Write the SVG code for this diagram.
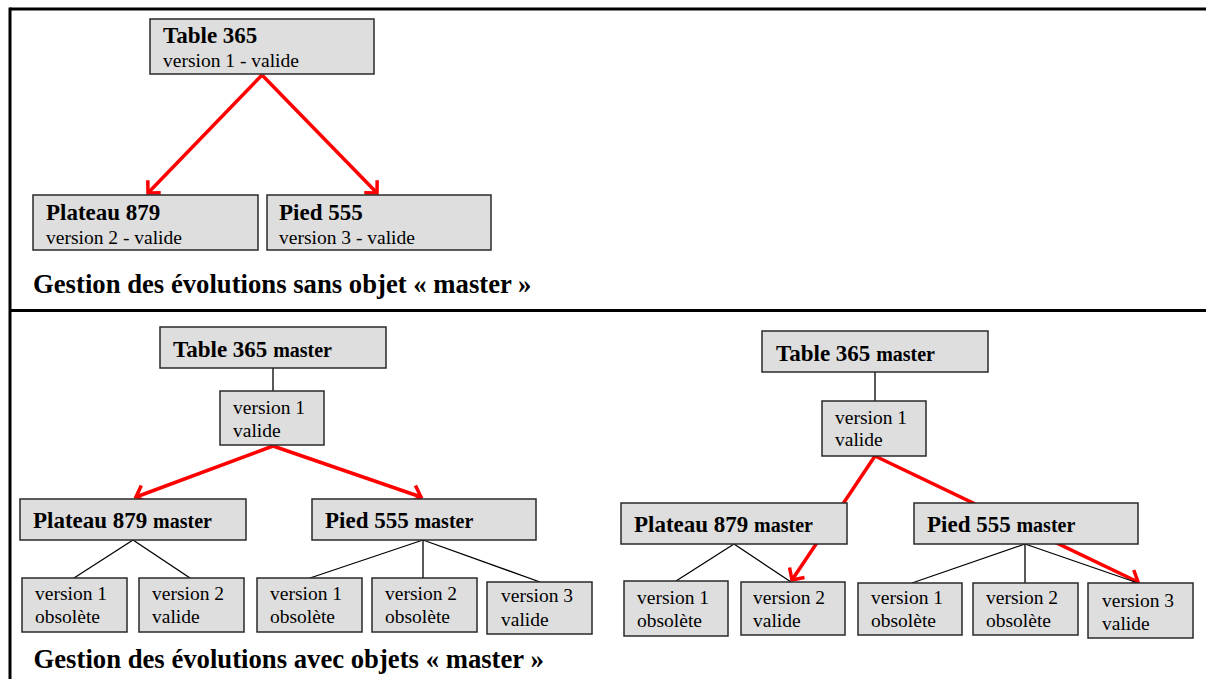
<svg xmlns="http://www.w3.org/2000/svg" width="1206" height="679" viewBox="0 0 1206 679">
<style>
.box{fill:#dedede;stroke:#2a2a2a;stroke-width:1.5}
.t{font-family:"Liberation Serif","Times New Roman",serif;font-weight:bold;font-size:23px;fill:#000}
.m{font-size:20px}
.v{font-family:"Liberation Serif","Times New Roman",serif;font-size:19.5px;fill:#000}
.cap{font-family:"Liberation Serif","Times New Roman",serif;font-weight:bold;font-size:26.7px;fill:#000}
.conn{stroke:#000;stroke-width:1.3;fill:none}
.red{stroke:#ff0000;stroke-width:3.5;fill:none}
.frame{stroke:#000;stroke-width:3;fill:none}
</style>
<defs>
<marker id="ah" markerUnits="userSpaceOnUse" viewBox="-14 -12 16 24" markerWidth="16" markerHeight="24" refX="0" refY="0" orient="auto" overflow="visible">
<path d="M-9,-9 L0,0 L-9,9" fill="none" stroke="#ff0000" stroke-width="3.5"/>
</marker>
</defs>
<g id="frame">
<line class="frame" x1="10" y1="9" x2="1206" y2="9"/>
<line class="frame" x1="10" y1="7.5" x2="10" y2="679"/>
<line class="frame" x1="10" y1="310.5" x2="1206" y2="310.5"/>
</g>
<g id="connectors">
<line class="red" x1="262" y1="75" x2="148" y2="193" marker-end="url(#ah)"/>
<line class="red" x1="262" y1="75" x2="377" y2="193" marker-end="url(#ah)"/>
<line class="conn" x1="273" y1="368" x2="273" y2="391"/>
<line class="red" x1="273" y1="446" x2="136" y2="497" marker-end="url(#ah)"/>
<line class="red" x1="273" y1="446" x2="421" y2="497" marker-end="url(#ah)"/>
<line class="conn" x1="133" y1="540" x2="74" y2="578"/>
<line class="conn" x1="133" y1="540" x2="190" y2="578"/>
<line class="conn" x1="423" y1="540" x2="310" y2="578"/>
<line class="conn" x1="423" y1="540" x2="423" y2="578"/>
<line class="conn" x1="423" y1="540" x2="540" y2="582"/>
<line class="conn" x1="875" y1="372" x2="875" y2="401"/>
<line class="red" x1="875" y1="456" x2="792" y2="580" marker-end="url(#ah)"/>
<line class="red" x1="875" y1="456" x2="1138" y2="582" marker-end="url(#ah)"/>
<line class="conn" x1="734" y1="544" x2="676" y2="581"/>
<line class="conn" x1="734" y1="544" x2="791" y2="582"/>
<line class="conn" x1="1025" y1="544" x2="912" y2="583"/>
<line class="conn" x1="1025" y1="544" x2="1025" y2="583"/>
<line class="conn" x1="1025" y1="544" x2="1138" y2="583"/>
</g>
<g id="top-table"><rect class="box" x="150" y="19" width="224" height="55"/><text class="t" x="163" y="43">Table 365</text><text class="v" x="163" y="67">version 1 - valide</text></g>
<g id="top-plateau"><rect class="box" x="33" y="195" width="225" height="55"/><text class="t" x="46" y="219.5">Plateau 879</text><text class="v" x="46" y="243.5">version 2 - valide</text></g>
<g id="top-pied"><rect class="box" x="267" y="195" width="224" height="55"/><text class="t" x="279" y="219.5">Pied 555</text><text class="v" x="279" y="243.5">version 3 - valide</text></g>
<text id="caption-top" class="cap" x="33" y="292.5">Gestion des évolutions sans objet « master »</text>

<g id="bl-table"><rect class="box" x="160" y="327" width="226" height="41"/><text class="t" x="173" y="357">Table 365 <tspan class="m">master</tspan></text></g>
<g id="bl-v1"><rect class="box" x="220" y="391" width="104" height="54"/><text class="v" x="233" y="414">version 1</text><text class="v" x="233" y="437">valide</text></g>
<g id="bl-plateau"><rect class="box" x="20" y="499" width="226" height="41"/><text class="t" x="33" y="528">Plateau 879 <tspan class="m">master</tspan></text></g>
<g id="bl-pied"><rect class="box" x="312" y="499" width="224" height="41"/><text class="t" x="325" y="528">Pied 555 <tspan class="m">master</tspan></text></g>
<g id="bl-p-v1"><rect class="box" x="22" y="578" width="105" height="54"/><text class="v" x="35" y="600">version 1</text><text class="v" x="35" y="623">obsolète</text></g>
<g id="bl-p-v2"><rect class="box" x="139" y="578" width="105" height="54"/><text class="v" x="152" y="600">version 2</text><text class="v" x="152" y="623">valide</text></g>
<g id="bl-q-v1"><rect class="box" x="257" y="578" width="105" height="54"/><text class="v" x="270" y="600">version 1</text><text class="v" x="270" y="623">obsolète</text></g>
<g id="bl-q-v2"><rect class="box" x="372" y="578" width="105" height="54"/><text class="v" x="385" y="600">version 2</text><text class="v" x="385" y="623">obsolète</text></g>
<g id="bl-q-v3"><rect class="box" x="487" y="582" width="105" height="52"/><text class="v" x="501" y="602">version 3</text><text class="v" x="501" y="626">valide</text></g>
<text id="caption-bottom" class="cap" x="33.5" y="668">Gestion des évolutions avec objets « master »</text>

<g id="br-table"><rect class="box" x="762" y="331" width="226" height="41"/><text class="t" x="776" y="360.5">Table 365 <tspan class="m">master</tspan></text></g>
<g id="br-v1"><rect class="box" x="822" y="401" width="104" height="55"/><text class="v" x="835" y="424">version 1</text><text class="v" x="835" y="446">valide</text></g>
<g id="br-plateau"><rect class="box" x="621" y="503" width="226" height="41"/><text class="t" x="634" y="532">Plateau 879 <tspan class="m">master</tspan></text></g>
<g id="br-pied"><rect class="box" x="914" y="503" width="224" height="41"/><text class="t" x="927" y="532">Pied 555 <tspan class="m">master</tspan></text></g>
<g id="br-p-v1"><rect class="box" x="624" y="581" width="104" height="55"/><text class="v" x="637" y="604">version 1</text><text class="v" x="637" y="627">obsolète</text></g>
<g id="br-p-v2"><rect class="box" x="741" y="582" width="104" height="53"/><text class="v" x="753" y="604">version 2</text><text class="v" x="753" y="627">valide</text></g>
<g id="br-q-v1"><rect class="box" x="858" y="583" width="104" height="52"/><text class="v" x="871" y="604">version 1</text><text class="v" x="871" y="627">obsolète</text></g>
<g id="br-q-v2"><rect class="box" x="973" y="583" width="105" height="52"/><text class="v" x="986" y="604">version 2</text><text class="v" x="986" y="627">obsolète</text></g>
<g id="br-q-v3"><rect class="box" x="1088" y="583" width="105" height="55"/><text class="v" x="1102" y="607">version 3</text><text class="v" x="1102" y="630">valide</text></g>
</svg>
